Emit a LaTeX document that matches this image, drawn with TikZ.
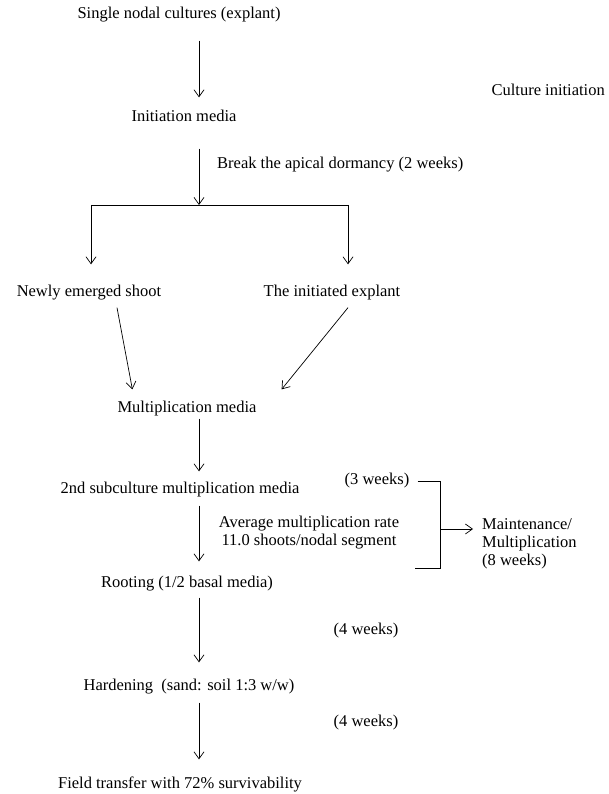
\documentclass[tikz,border=0pt]{standalone}
\usepackage{fontspec}
\setmainfont{Liberation Serif}
\usetikzlibrary{positioning,calc,arrows.meta}

\begin{document}
\begin{tikzpicture}[
    x=1pt, y=-1pt,
    stage/.style={font=\fontsize{16.5}{18}\selectfont, inner sep=2pt, text height=11.3pt, text depth=3.6pt},
    note/.style={font=\fontsize{16.5}{18}\selectfont, inner sep=2pt},
    flow/.style={-{Straight Barb[length=7pt,width=10pt]}, line width=0.7pt}
]
    \useasboundingbox (0,0) rectangle (608,794);
    \coordinate (spine) at (199,0);
    \coordinate (fork) at (199,205);
    \coordinate (forkL) at (91,205);
    \coordinate (forkR) at (348,205);
    \coordinate (brBot) at (440,568);
    \coordinate (brace) at (440,529);

    \node[stage] (single) at (179,15) {Single nodal cultures (explant)};
    \node[stage] (init) at (184,118) {Initiation media};
    \node[stage, anchor=east] (phase) at (607,92) {Culture initiation};
    \node[stage, anchor=west] (dormancy) at (215,165) {Break the apical dormancy (2 weeks)};
    \node[stage] (newshoot) at (89,293) {Newly emerged shoot};
    \node[stage] (explant) at (332,293) {The initiated explant};
    \node[stage] (multmed) at (187,409) {Multiplication media};
    \node[stage] (subcult) at (180,490) {2nd subculture multiplication media};
    \node[stage] (w3) at (377,481) {(3 weeks)};
    \node[note, align=center] (rate) at (309,533) {Average multiplication rate\\11.0 shoots/nodal segment};
    \node[note, align=left, anchor=west] (maint) at (480,544) {Maintenance/\\Multiplication\\(8 weeks)};
    \node[stage] (rooting) at (187,584) {Rooting (1/2 basal media)};
    \node[stage] (w4a) at (366,631) {(4 weeks)};
    \node[stage] (hardening) at (189,687) {Hardening~~(sand: soil 1:3 w/w)};
    \node[stage] (w4b) at (366,723) {(4 weeks)};
    \node[stage] (field) at (180,785) {Field transfer with 72\% survivability};

    \draw[flow, shorten <=16pt, shorten >=11pt] (single.south -| spine) -- (init.north -| spine);
    \draw[flow, shorten <=21pt] (init.south -| spine) -- (fork);
    \draw[line width=0.7pt] (forkL) -- (forkR);
    \draw[flow, shorten >=19pt] (forkL) -- (newshoot.north -| forkL);
    \draw[flow, shorten >=19pt] (forkR) -- (explant.north -| forkR);
    \draw[flow] ([xshift=28pt,yshift=-5pt]newshoot.south) -- ([xshift=17pt,yshift=10pt]multmed.north west);
    \draw[flow] ([xshift=16pt,yshift=-5pt]explant.south) -- ([xshift=23pt,yshift=10pt]multmed.north east);
    \draw[flow, shorten >=9pt] (multmed.south -| spine) -- (subcult.north -| spine);
    \draw[flow, shorten <=6pt, shorten >=13pt] (subcult.south -| spine) -- (rooting.north -| spine);
    \draw[flow, shorten <=4pt, shorten >=15pt] (rooting.south -| spine) -- (hardening.north -| spine);
    \draw[flow, shorten <=6pt, shorten >=16pt] (hardening.south -| spine) -- (field.north -| spine);
    \draw[line width=0.7pt] ([xshift=6pt]w3.east) -| (brBot) -- ++(-25,0);
    \draw[flow, shorten >=7pt] (brace) -- (maint.west |- brace);
\end{tikzpicture}
\end{document}
